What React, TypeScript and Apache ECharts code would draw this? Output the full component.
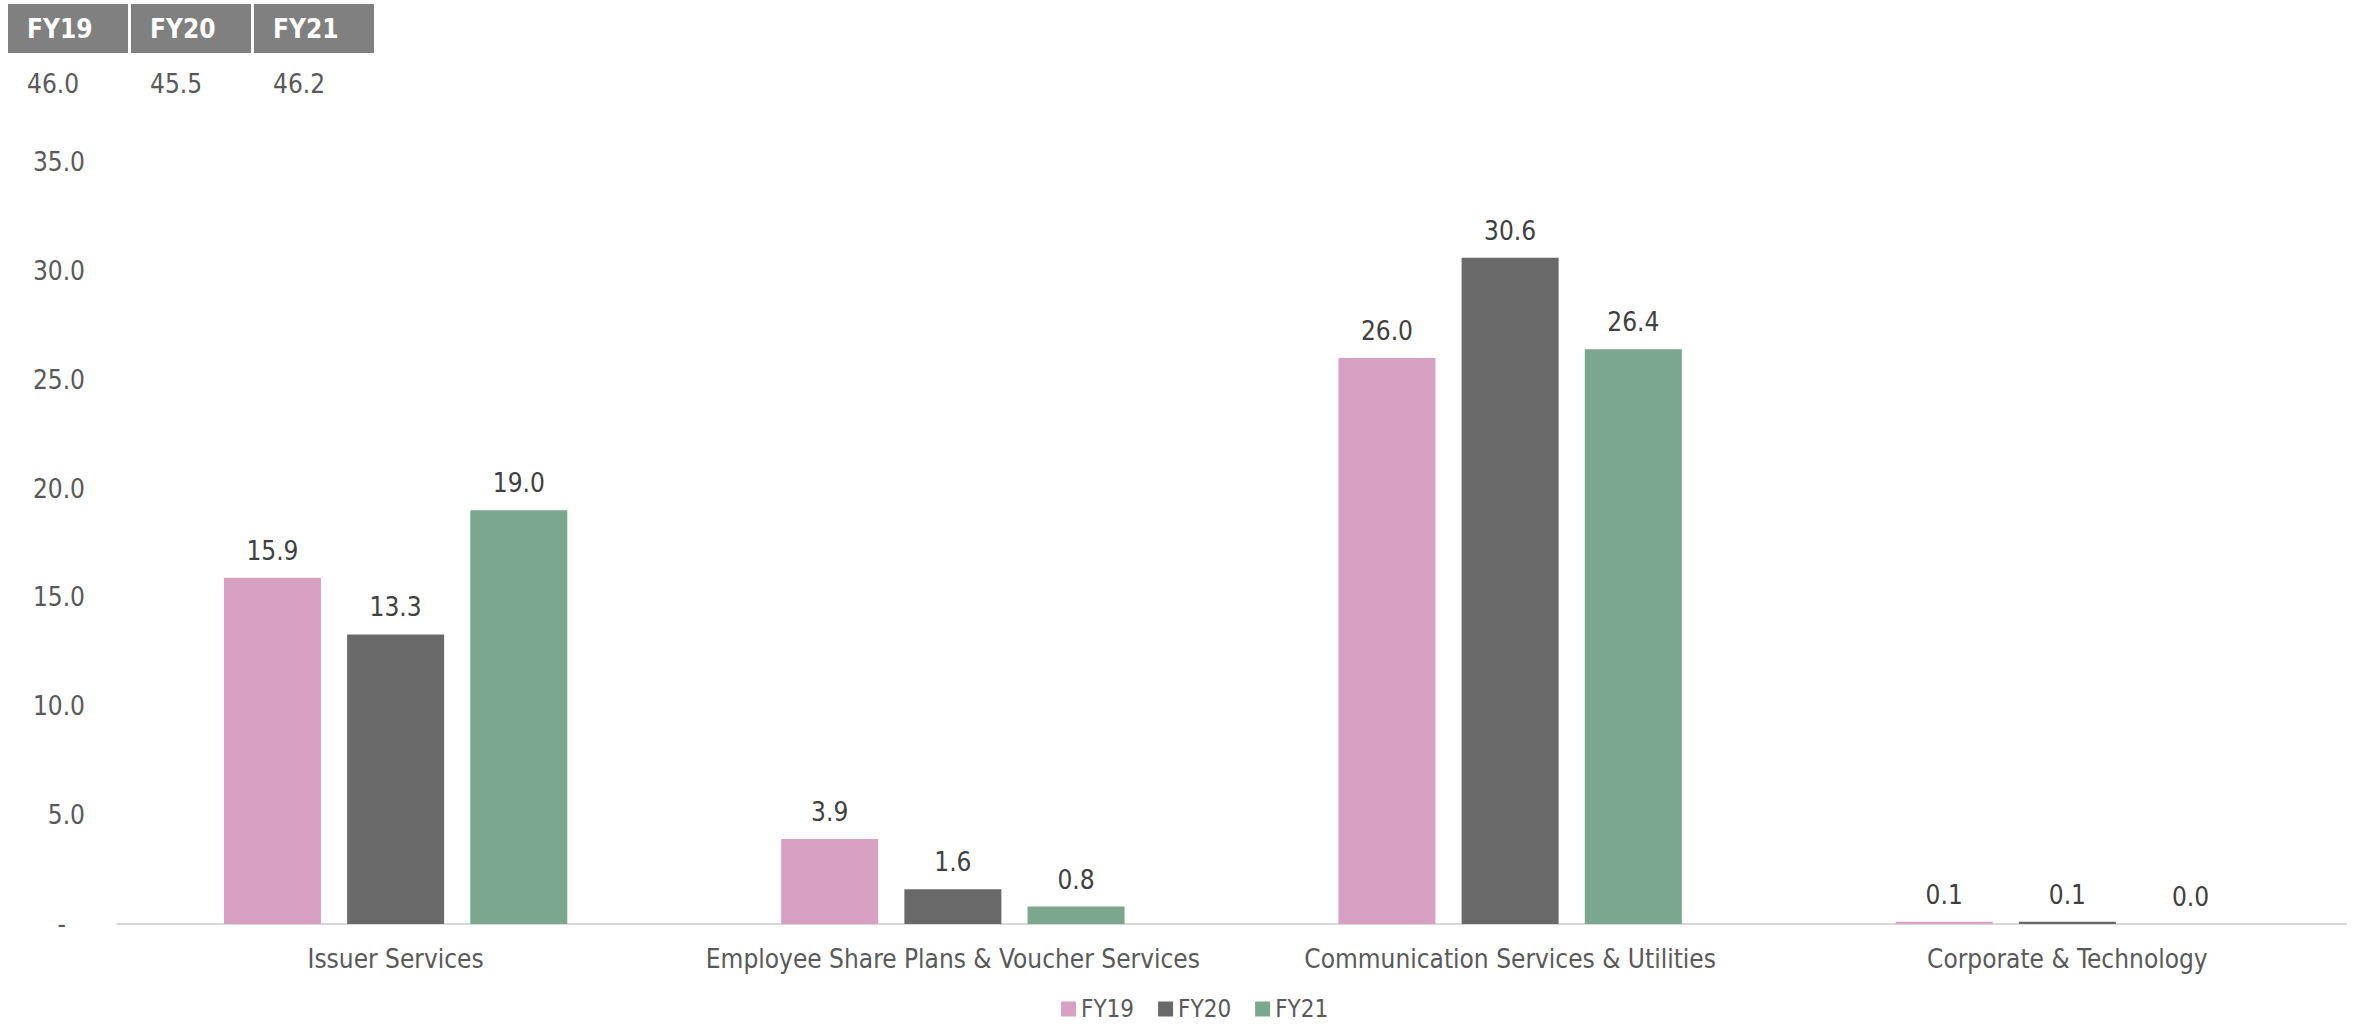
import React, { useEffect, useRef } from "react";
import * as echarts from "echarts";

const categories = [
  "Issuer Services",
  "Employee Share Plans & Voucher Services",
  "Communication Services & Utilities",
  "Corporate & Technology",
];
const seriesNames = ["FY19", "FY20", "FY21"];
const fy19 = [15.9, 3.9, 26.0, 0.1];
const fy20 = [13.3, 1.6, 30.6, 0.1];
const fy21 = [19.0, 0.8, 26.4, 0.0];
const totals = [46.0, 45.5, 46.2];
const colors = ["#D8A1C4", "#696969", "#7AA78D"];

const FONT = "'DejaVu Sans Condensed', 'DejaVu Sans', sans-serif";

export default function App() {
  const ref = useRef<HTMLDivElement>(null);
  useEffect(() => {
    if (!ref.current) return;
    const chart = echarts.init(ref.current, null, { renderer: "svg" });
    const data = [fy19, fy20, fy21];
    const graphic: any[] = [];
    seriesNames.forEach((n, i) => {
      const x = 8 + i * 123;
      graphic.push({
        type: "rect",
        left: x,
        top: 4,
        shape: { width: 120, height: 49 },
        style: { fill: "#808080" },
      });
      graphic.push({
        type: "text",
        left: x + 19,
        top: 16,
        style: {
          text: n,
          fill: "#ffffff",
          font: `bold 26px ${FONT}`,
        },
      });
      graphic.push({
        type: "text",
        left: x + 19,
        top: 71,
        style: {
          text: totals[i].toFixed(1),
          fill: "#595959",
          font: `26px ${FONT}`,
        },
      });
    });
    chart.setOption({
      animation: false,
      textStyle: { fontFamily: FONT },
      grid: { left: 117, right: 7, top: 162, bottom: 103, containLabel: false },
      legend: {
        data: seriesNames,
        left: 1056,
        top: 992,
        itemWidth: 15,
        itemHeight: 15,
        itemGap: 24,
        icon: "rect",
        textStyle: { fontSize: 24, lineHeight: 24, color: "#595959", fontFamily: FONT },
      },
      xAxis: {
        type: "category",
        data: categories,
        axisLine: { lineStyle: { color: "#D9D9D9", width: 2 } },
        axisTick: { show: false },
        axisLabel: { color: "#595959", fontSize: 26, margin: 22, fontFamily: FONT, interval: 0 },
      },
      yAxis: {
        type: "value",
        min: 0,
        max: 35,
        interval: 5,
        axisLine: { show: false },
        axisTick: { show: false },
        splitLine: { show: false },
        axisLabel: {
          color: "#595959",
          fontSize: 26,
          margin: 32,
          fontFamily: FONT,
          formatter: (v: number) => (v === 0 ? "{z|-}" : v.toFixed(1)),
          rich: { z: { color: "#595959", fontSize: 26, fontFamily: FONT, padding: [0, 19, 0, 0] } },
        },
      },
      series: seriesNames.map((n, i) => ({
        name: n,
        type: "bar",
        data: data[i],
        barWidth: 97,
        barGap: "27%",
        itemStyle: { color: colors[i] },
        label: {
          show: true,
          position: "top",
          distance: 14,
          color: "#404040",
          fontSize: 26,
          fontFamily: FONT,
          formatter: (p: any) => Number(p.value).toFixed(1),
        },
      })),
      graphic,
    });
    return () => chart.dispose();
  }, []);
  return (
    <div
      ref={ref}
      style={{ position: "absolute", left: 0, top: 0, width: 2353, height: 1027, background: "#fff" }}
    />
  );
}
